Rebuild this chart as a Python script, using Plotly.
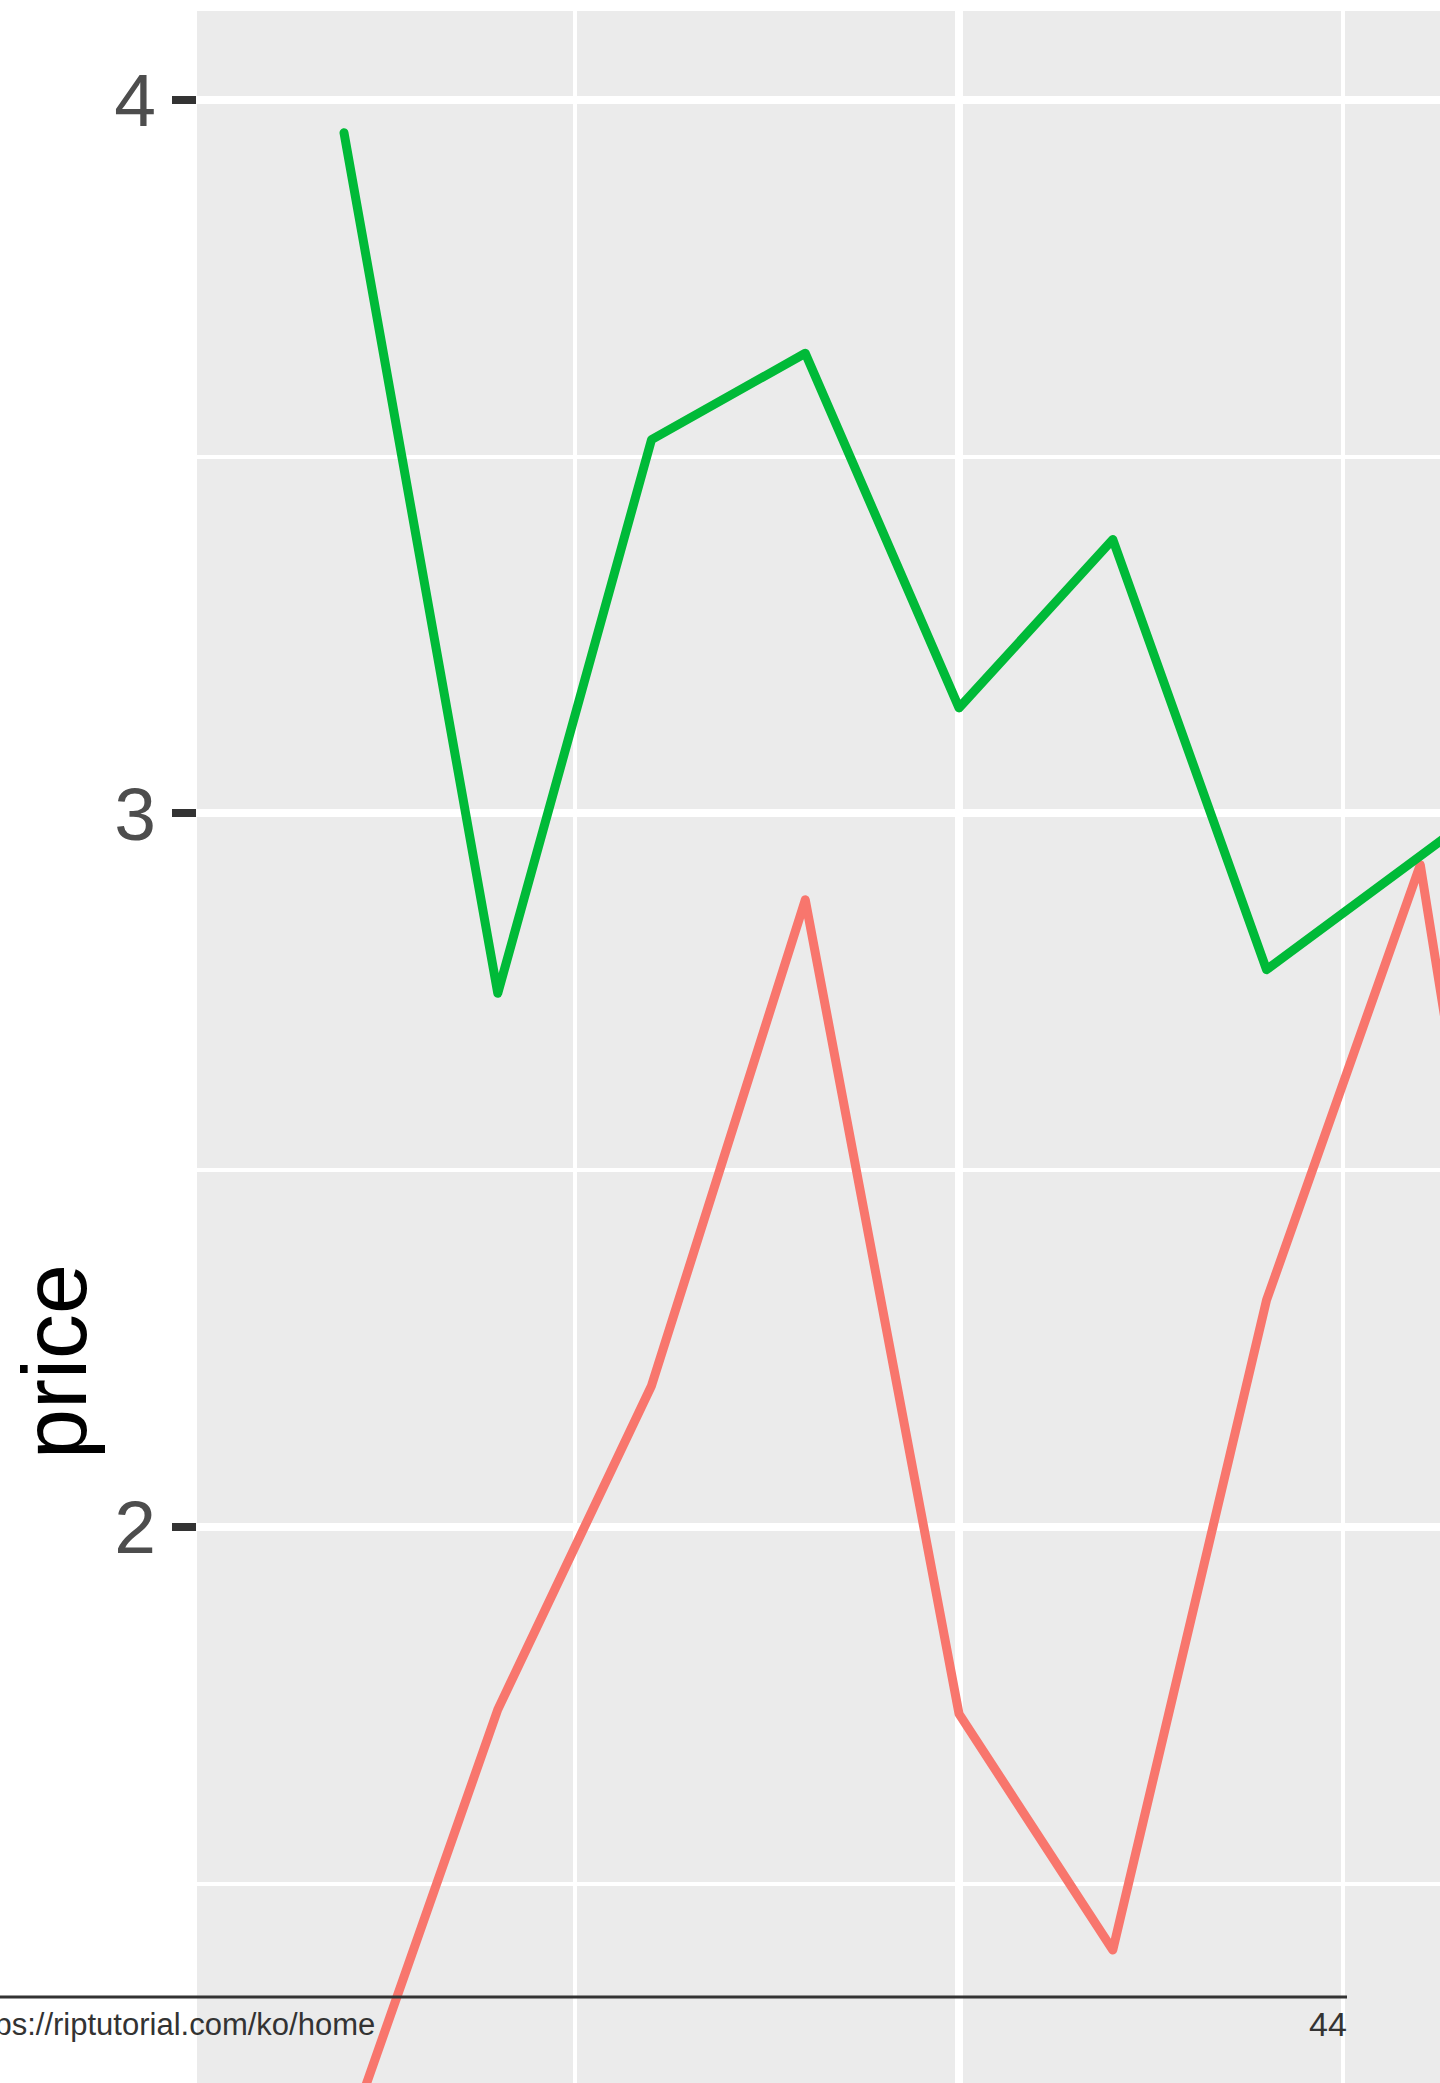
import plotly.graph_objects as go

# ---- data ----
x_vals = [1, 2, 3, 4, 5, 6, 7, 8, 9]
green_price = [3.954, 2.748, 3.524, 3.645, 3.148, 3.384, 2.781, 2.939, 3.10]
red_price = [1.13, 1.744, 2.198, 2.879, 1.738, 1.407, 2.318, 2.928, 1.58]
y_ticks = [2, 3, 4]
y_tick_labels = ["2", "3", "4"]
y_title = "price"
footer_url = "https://riptutorial.com/ko/home"
footer_page = "44"

W, H = 1440, 2083
L, T = 197, 11
PW, PH = W - L, H - T

FONT = "Liberation Sans, Arial, Helvetica, sans-serif"

def px_x(p):
    return (p - L) / PW

def px_y(p):
    return (H - p) / PH

fig = go.Figure()
fig.add_trace(go.Scatter(x=x_vals, y=red_price, mode="lines",
                         line=dict(color="#F8766D", width=9), hoverinfo="skip"))
fig.add_trace(go.Scatter(x=x_vals, y=green_price, mode="lines",
                         line=dict(color="#00BA38", width=9), hoverinfo="skip"))

fig.update_layout(
    width=W, height=H,
    margin=dict(l=L, r=0, t=T, b=0, pad=0),
    paper_bgcolor="white",
    plot_bgcolor="#EBEBEB",
    showlegend=False,
    font=dict(family=FONT),
)

fig.update_xaxes(
    range=[0.044, 8.128],
    tick0=0, dtick=5,
    showgrid=True, gridcolor="white", gridwidth=8,
    minor=dict(tick0=0, dtick=2.5, showgrid=True, gridcolor="white", gridwidth=4),
    showticklabels=False, ticks="", zeroline=False, showline=False,
)

fig.update_yaxes(
    range=[1.2207, 4.1247],
    tickmode="array", tickvals=y_ticks, ticktext=y_tick_labels,
    showgrid=True, gridcolor="white", gridwidth=8,
    minor=dict(tick0=0, dtick=0.5, showgrid=True, gridcolor="white", gridwidth=4),
    ticks="outside", ticklen=24, tickwidth=8, tickcolor="#333333",
    tickfont=dict(size=75, color="#4D4D4D", family=FONT),
    ticklabelstandoff=1,
    zeroline=False, showline=False,
)

# y axis title
fig.add_annotation(
    text=y_title, textangle=-90, showarrow=False,
    xref="paper", yref="paper",
    x=px_x(55), y=px_y(1362), xanchor="center", yanchor="middle",
    font=dict(size=90, color="black", family=FONT),
)

# page footer (line + texts)
fig.add_shape(
    type="line", xref="paper", yref="paper", layer="above",
    x0=px_x(-5), x1=px_x(1347), y0=px_y(1997), y1=px_y(1997),
    line=dict(color="#333333", width=3),
)
fig.add_annotation(
    text=footer_url, showarrow=False,
    xref="paper", yref="paper",
    x=px_x(377), y=px_y(2024), xanchor="right", yanchor="middle",
    font=dict(size=31, color="#333333", family=FONT),
)
fig.add_annotation(
    text=footer_page, showarrow=False,
    xref="paper", yref="paper",
    x=px_x(1349), y=px_y(2024), xanchor="right", yanchor="middle",
    font=dict(size=34, color="#333333", family=FONT),
)

post = (
    "document.body.style.margin='0';"
    "document.querySelectorAll('path.js-line').forEach(function(p){"
    "p.style.strokeLinejoin='round';p.style.strokeLinecap='round';});"
)
fig.write_html("out.html", post_script=post, config={"displayModeBar": False})
